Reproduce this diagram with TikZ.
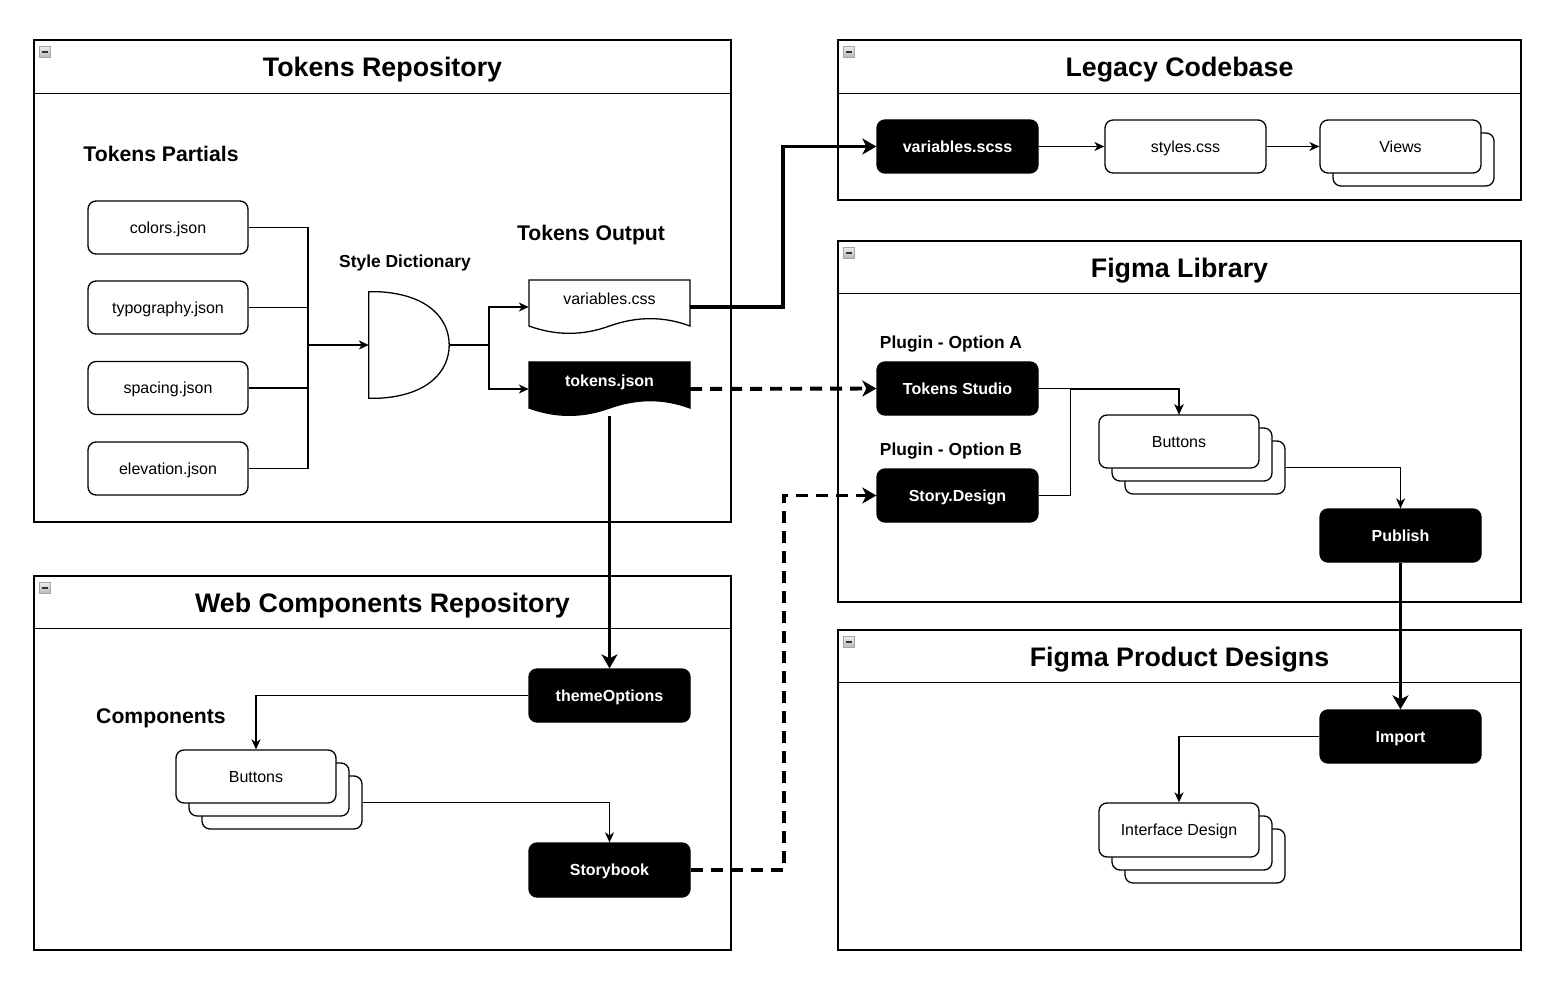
\documentclass[tikz,border=0pt]{standalone}
\usepackage{fontspec}
\setmainfont{Liberation Sans}
\usetikzlibrary{arrows.meta,calc}
\tikzset{
  box/.style={rounded corners=8pt, line width=1.3pt, draw=black, fill=white, minimum width=161pt, minimum height=53pt, inner sep=0pt, text height=13pt, text depth=1.5pt, font=\fontsize{16}{18}\selectfont},
  blk/.style={box, fill=black, text=white, font=\fontsize{16}{18}\selectfont\bfseries},
  cont/.style={draw=black, line width=1.3pt, inner sep=0pt},
  ctitle/.style={font=\fontsize{26.8}{30}\selectfont\bfseries, yshift=-3pt},
  lbl/.style={font=\fontsize{21.2}{24}\selectfont\bfseries, yshift=-1pt},
  slbl/.style={font=\fontsize{17.4}{20}\selectfont\bfseries, yshift=-1pt},
  docnode/.style={minimum width=161pt, minimum height=54pt, inner sep=0pt, text height=12pt, text depth=17pt},
  arr/.style={line width=1.3pt, -{Stealth[length=10pt,width=9pt,inset=3pt]}},
  ln/.style={line width=1.3pt},
  tarr/.style={line width=3.9pt, -{Stealth[length=14pt,width=16pt,inset=4pt]}},
  darr/.style={tarr, dash pattern=on 12pt off 8pt},
  colicon/.pic={
    \draw[line width=0.6pt, draw=gray!70, top color=gray!15, bottom color=gray!55] (0,0) rectangle (11,11);
    \draw[line width=1.6pt, draw=black!80] (2.5,5.5) -- (8.5,5.5);
  }
}
\begin{document}
\begin{tikzpicture}[x=1pt,y=-1pt]
\useasboundingbox[fill=white] (0,0) rectangle (1556,984);

% ---------- containers ----------
\node[cont, minimum width=697pt, minimum height=482pt] (trepo) at (382.5,281) {};
\draw[ln] ($(trepo.north west)+(0,54)$) -- ($(trepo.north east)+(0,54)$);
\node[ctitle] (trepoT) at ($(trepo.north)+(0,27)$) {Tokens Repository};
\pic at ($(trepo.north west)+(6,7)$) {colicon};

\node[cont, minimum width=683pt, minimum height=160pt] (legacy) at (1179.5,120) {};
\draw[ln] ($(legacy.north west)+(0,54)$) -- ($(legacy.north east)+(0,54)$);
\node[ctitle] (legacyT) at ($(legacy.north)+(0,27)$) {Legacy Codebase};
\pic at ($(legacy.north west)+(6,7)$) {colicon};

\node[cont, minimum width=683pt, minimum height=361pt] (flib) at (1179.5,421.5) {};
\draw[ln] ($(flib.north west)+(0,53)$) -- ($(flib.north east)+(0,53)$);
\node[ctitle] (flibT) at ($(flib.north)+(0,27)$) {Figma Library};
\pic at ($(flib.north west)+(6,7)$) {colicon};

\node[cont, minimum width=697pt, minimum height=374pt] (wcomp) at (382.5,763) {};
\draw[ln] ($(wcomp.north west)+(0,53)$) -- ($(wcomp.north east)+(0,53)$);
\node[ctitle] (wcompT) at ($(wcomp.north)+(0,27)$) {Web Components Repository};
\pic at ($(wcomp.north west)+(6,7)$) {colicon};

\node[cont, minimum width=683pt, minimum height=320pt] (fprod) at (1179.5,790) {};
\draw[ln] ($(fprod.north west)+(0,53)$) -- ($(fprod.north east)+(0,53)$);
\node[ctitle] (fprodT) at ($(fprod.north)+(0,27)$) {Figma Product Designs};
\pic at ($(fprod.north west)+(6,7)$) {colicon};

% ---------- labels ----------
\node[lbl] (partT) at (161,153) {Tokens Partials};
\node[slbl] (sdT) at (405,262) {Style Dictionary};
\node[lbl] (outT) at (591,234) {Tokens Output};
\node[slbl] (optA) at (951,343) {Plugin - Option A};
\node[slbl] (optB) at (951,450) {Plugin - Option B};
\node[lbl] (compT) at (161,717) {Components};

% ---------- token partials ----------
\node[box, minimum width=160pt] (colors) at (168,227.5) {colors.json};
\node[box, minimum width=160pt] (typo) at (168,307.5) {typography.json};
\node[box, minimum width=160pt] (spacing) at (168,388) {spacing.json};
\node[box, minimum width=160pt] (elev) at (168,468.5) {elevation.json};
\coordinate (bus) at (308,345);

% ---------- style dictionary gate ----------
\node[minimum width=80pt, minimum height=106pt, inner sep=0pt] (gate) at (409,345) {};
\draw[ln, fill=white] (gate.north west) -- ++(11,0)
  .. controls ++(50,3) and ++(0,-25) .. (gate.east)
  .. controls ++(0,25) and ++(50,-3) .. ($(gate.south west)+(11,0)$)
  -- (gate.south west) -- cycle;
\coordinate (split) at (489,345);

% ---------- documents ----------
\node[docnode] (varcss) at (609.5,307) {};
\draw[ln, fill=white] (529,280) -- (690,280) -- (690,326)
  .. controls (663.83,316.2) and (637,316.2) .. (609.5,326)
  .. controls (582.67,335.8) and (555.83,335.8) .. (529,326) -- cycle;
\node[docnode, font=\fontsize{16}{18}\selectfont] (varcssT) at (609.5,307) {variables.css};

\node[docnode] (tokjson) at (609.5,389) {};
\draw[ln, fill=black] (529,362) -- (690,362) -- (690,408)
  .. controls (663.83,398.2) and (637,398.2) .. (609.5,408)
  .. controls (582.67,417.8) and (555.83,417.8) .. (529,408) -- cycle;
\node[docnode, text=white, font=\fontsize{16}{18}\selectfont\bfseries] (tokjsonT) at (609.5,389) {tokens.json};

% ---------- legacy codebase ----------
\node[blk] (vscss) at (957.5,146.5) {variables.scss};
\node[box] (styles) at (1185.5,146.5) {styles.css};
\node[box] (views2) at (1413.5,159.5) {};
\node[box] (views) at (1400.5,146.5) {Views};

% ---------- figma library ----------
\node[blk] (tstudio) at (957.5,388.5) {Tokens Studio};
\node[blk] (sdesign) at (957.5,495.5) {Story.Design};
\node[box, minimum width=160pt] (fbtn3) at (1205,467.5) {};
\node[box, minimum width=160pt] (fbtn2) at (1192,454.5) {};
\node[box, minimum width=160pt] (fbtn) at (1179,441.5) {Buttons};
\node[blk] (publish) at (1400.5,535.5) {Publish};

% ---------- figma product designs ----------
\node[blk] (import) at (1400.5,736.5) {Import};
\node[box, minimum width=160pt, minimum height=54pt] (ides3) at (1205,856) {};
\node[box, minimum width=160pt, minimum height=54pt] (ides2) at (1192,843) {};
\node[box, minimum width=160pt, minimum height=54pt] (ides) at (1179,830) {Interface Design};

% ---------- web components ----------
\node[blk] (themeopt) at (609.5,695.5) {themeOptions};
\node[box, minimum width=160pt] (wbtn3) at (282,802.5) {};
\node[box, minimum width=160pt] (wbtn2) at (269,789.5) {};
\node[box, minimum width=160pt] (wbtn) at (256,776.5) {Buttons};
\node[blk, minimum height=54pt] (storybook) at (609.5,870) {Storybook};

% ---------- connectors ----------
\draw[ln] (colors.east) -| (bus);
\draw[ln] (typo.east) -| (bus);
\draw[ln] (spacing.east) -| (bus);
\draw[ln] (elev.east) -| (bus);
\draw[arr] (bus) -- (gate.west);
\draw[ln] (gate.east) -- (split);
\draw[arr] (split) |- (varcss.west);
\draw[arr] (split) |- (tokjson.west);

\draw[tarr] (varcss.east) -- ++(93,0) |- (vscss.west);
\draw[darr] (tokjson.east) -- (tstudio.west);
\draw[tarr] (tokjson.south) -- (themeopt.north);

\draw[arr] (vscss.east) -- (styles.west);
\draw[arr] (styles.east) -- (views.west);

\draw[arr] (tstudio.east) -| (fbtn.north);
\draw[arr] (sdesign.east) -| ++(32,-106) -| (fbtn.north);
\draw[arr] (fbtn3.east) -| (publish.north);
\draw[tarr] (publish.south) -- (import.north);
\draw[arr] (import.west) -| (ides.north);

\draw[arr] (themeopt.west) -| (wbtn.north);
\draw[arr] (wbtn3.east) -| (storybook.north);
\draw[darr] (storybook.east) -- ++(93,0) |- (sdesign.west);
\end{tikzpicture}
\end{document}
